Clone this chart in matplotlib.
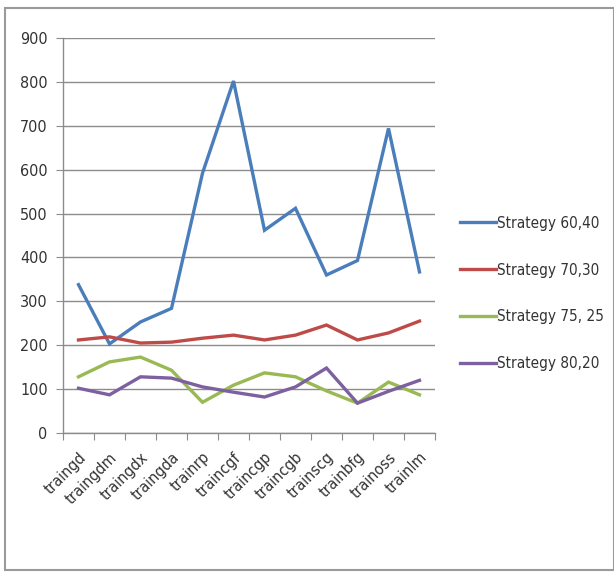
import matplotlib.pyplot as plt
from matplotlib.patches import Rectangle

# training functions on the x axis
methods = ['traingd', 'traingdm', 'traingdx', 'traingda', 'trainrp', 'traincgf',
           'traincgp', 'traincgb', 'trainscg', 'trainbfg', 'trainoss', 'trainlm']

s60_40 = [338, 203, 253, 284, 592, 802, 462, 512, 360, 393, 694, 367]
s70_30 = [212, 219, 205, 207, 216, 223, 212, 223, 246, 212, 228, 255]
s75_25 = [128, 162, 173, 143, 70, 109, 137, 128, 96, 68, 116, 87]
s80_20 = [102, 87, 128, 125, 105, 93, 82, 105, 148, 68, 95, 120]

series = [('Strategy 60,40', s60_40, '#4a7ebb'),
          ('Strategy 70,30', s70_30, '#be4b48'),
          ('Strategy 75, 25', s75_25, '#98b954'),
          ('Strategy 80,20', s80_20, '#7d60a0')]

plt.rcParams['font.family'] = ['DejaVu Sans']
plt.rcParams['font.stretch'] = 'condensed'

fig = plt.figure(figsize=(6.14, 5.73), dpi=100)
ax = fig.add_axes([63/614, 1-433/573, 372/614, 395/573])

x = list(range(len(methods)))
for name, vals, col in series:
    ax.plot(x, vals, color=col, lw=2.4, label=name, solid_joinstyle='miter')

ax.set_xlim(-0.5, len(methods)-0.5)
ax.set_ylim(0, 900)
ax.set_yticks(range(0, 901, 100))
ax.yaxis.grid(True, color='#8c8c8c', lw=1)
ax.set_axisbelow(True)

# category ticks sit between the categories
ax.set_xticks([i - 0.5 for i in range(len(methods)+1)], minor=False)
ax.set_xticklabels([])
ax.set_xticks(x, minor=True)
ax.set_xticklabels(methods, minor=True, rotation=45, ha='right', va='top',
                   rotation_mode='anchor', fontsize=11.5, color='#333333')
ax.tick_params(axis='x', which='minor', length=0, pad=12)
ax.tick_params(axis='x', which='major', length=5, color='#8c8c8c', direction='out')
ax.tick_params(axis='y', length=5, color='#8c8c8c', labelsize=11.5,
               labelcolor='#333333', pad=6)

for sp in ['top', 'right']:
    ax.spines[sp].set_visible(False)
for sp in ['left', 'bottom']:
    ax.spines[sp].set_color('#8c8c8c')
    ax.spines[sp].set_linewidth(1)

leg = ax.legend(loc='upper left', bbox_to_anchor=(446/614, 1-202/573),
                bbox_transform=fig.transFigure, frameon=False, fontsize=11,
                handlelength=2.4, handletextpad=0.05, labelspacing=2.08)
for t in leg.get_texts():
    t.set_color('#333333')

# chart frame
fig.patches.append(Rectangle((5/614, 1-570/573), 609/614, 562/573,
                             transform=fig.transFigure, fill=False,
                             edgecolor='#9a9a9a', lw=1.5))

fig.savefig('out.png', dpi=100)
